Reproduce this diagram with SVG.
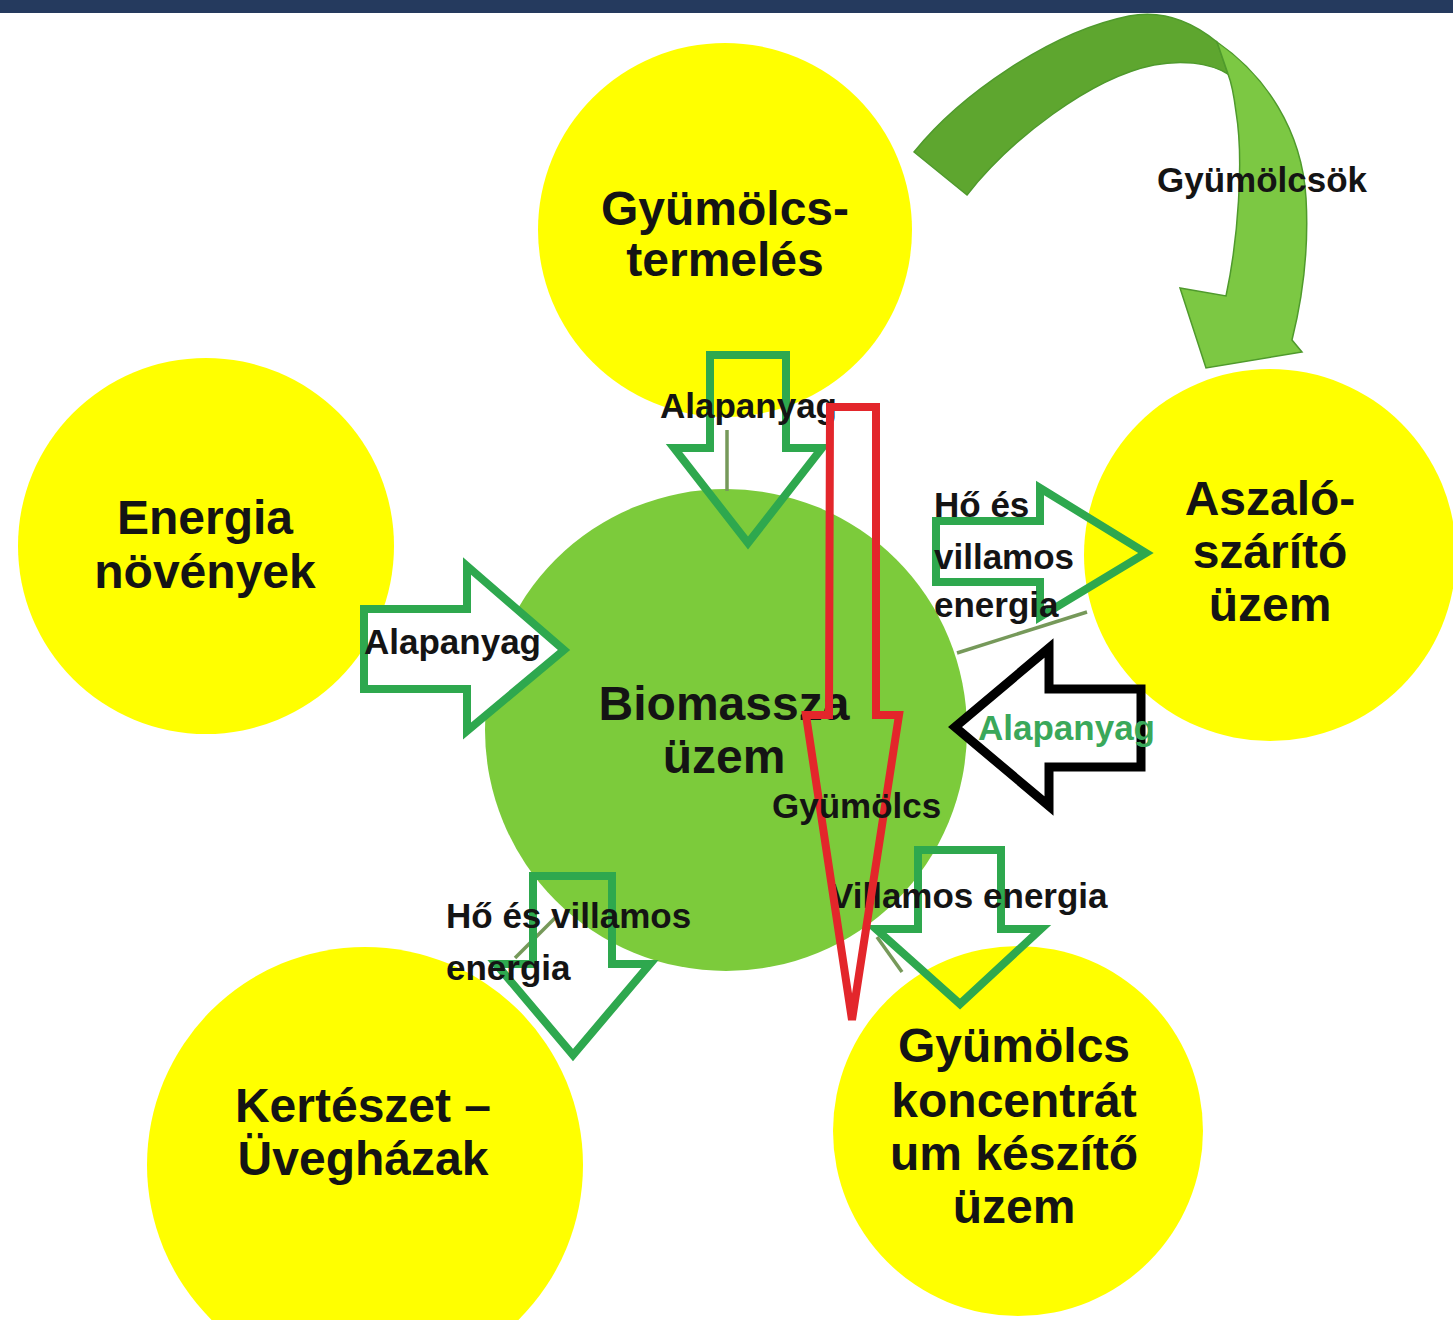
<svg xmlns="http://www.w3.org/2000/svg" width="1453" height="1320" viewBox="0 0 1453 1320">
<style>
.y{fill:#ffff00}
.nl{font-family:"Liberation Sans",Arial,sans-serif;font-weight:bold;font-size:48px;fill:#141414;text-anchor:middle}
.el{font-family:"Liberation Sans",Arial,sans-serif;font-weight:bold;font-size:35px;fill:#141414}
.ga{fill:none;stroke:#2ea84e;stroke-width:8;stroke-linejoin:miter}
.ln{stroke:#76995a;stroke-width:3.5;fill:none}
</style>
<rect x="0" y="0" width="1453" height="1320" fill="#ffffff"/>
<rect x="0" y="0" width="1453" height="13" fill="#253a5e"/>

<g id="node-gyumolcstermeles">
<circle class="y" cx="725" cy="230" r="187"/>
<text class="nl" x="725" y="225">Gyümölcs-</text>
<text class="nl" x="725" y="276">termelés</text>
</g>
<g id="node-energia">
<circle class="y" cx="206" cy="546" r="188"/>
<text class="nl" x="205" y="534">Energia</text>
<text class="nl" x="205" y="588">növények</text>
</g>
<g id="node-aszalo">
<circle class="y" cx="1270" cy="555" r="186"/>
<text class="nl" x="1270" y="515">Aszaló-</text>
<text class="nl" x="1270" y="568">szárító</text>
<text class="nl" x="1270" y="621">üzem</text>
</g>
<g id="node-kerteszet">
<circle class="y" cx="365" cy="1165" r="218"/>
<text class="nl" x="363" y="1122">Kertészet –</text>
<text class="nl" x="363" y="1175">Üvegházak</text>
</g>
<g id="node-koncentratum">
<circle class="y" cx="1018" cy="1131" r="185"/>
<text class="nl" x="1014" y="1062">Gyümölcs</text>
<text class="nl" x="1014" y="1117">koncentrát</text>
<text class="nl" x="1014" y="1170">um készítő</text>
<text class="nl" x="1014" y="1223">üzem</text>
</g>
<g id="node-biomassza">
<circle cx="726" cy="730" r="241" fill="#7ccb3b"/>
<text class="nl" x="724" y="720">Biomassza</text>
<text class="nl" x="724" y="773">üzem</text>
</g>

<g id="connectors">
<g id="curved-arrow" stroke="#4f9a2c" stroke-width="1.5">
<path d="M914,152 C960,95 1050,32 1129,16 C1165,9 1195,24 1217,42 L1228,74 C1208,62 1180,60 1154,65 C1090,78 1010,140 967,195 Z" fill="#5ea62f"/>
<path d="M1217,42 C1265,75 1302,130 1306,198 C1309,250 1302,300 1292,340 L1302,352 L1206,368 L1180,288 L1226,296 C1238,240 1244,160 1236,112 C1234,96 1232,84 1228,74 Z" fill="#7cc843"/>
</g>
<text class="el" x="1157" y="192">Gyümölcsök</text>

<line class="ln" x1="727" y1="430" x2="727" y2="491"/>
<line class="ln" x1="957" y1="653" x2="1087" y2="612"/>
<line class="ln" x1="398" y1="612" x2="460" y2="633"/>
<line class="ln" x1="515" y1="958" x2="555" y2="918"/>
<line class="ln" x1="877" y1="937" x2="902" y2="972"/>

<path class="ga" d="M710,355 L786,355 L786,448 L822,448 L748,543 L674,448 L710,448 Z"/>
<path class="ga" style="fill:#ffffff" d="M364,609 L467,609 L467,566 L564,650 L467,731 L467,689 L364,689 Z"/>
<path class="ga" d="M936,521 L1040,521 L1040,488 L1146,553 L1040,617 L1040,582 L936,582 Z"/>
<path class="ga" d="M918,850 L1001,850 L1001,929 L1041,929 L960,1004 L876,929 L918,929 Z"/>
<path class="ga" d="M533,876 L612,876 L612,964 L650,964 L573,1055 L496,964 L533,964 Z"/>
<path d="M1141,689 L1049,689 L1049,648 L955,727 L1049,806 L1049,767 L1141,767 Z" fill="#ffffff" stroke="#000000" stroke-width="9" stroke-linejoin="miter"/>

<text class="el" x="660" y="418">Alapanyag</text>
<text class="el" x="364" y="654">Alapanyag</text>
<text class="el" x="934" y="517">Hő és</text>
<text class="el" x="934" y="569">villamos</text>
<text class="el" x="934" y="617">energia</text>
<text class="el" x="978" y="740" style="fill:#3aa85a">Alapanyag</text>
<text class="el" x="830" y="908">Villamos energia</text>
<text class="el" x="446" y="928">Hő és villamos</text>
<text class="el" x="446" y="980">energia</text>

<path d="M830,407 L876,407 L876,715 L899,715 L852,1020 L806,715 L829,715 Z" fill="none" stroke="#e3262b" stroke-width="8" stroke-linejoin="miter"/>
<text class="el" x="772" y="818">Gyümölcs</text>
</g>
</svg>
